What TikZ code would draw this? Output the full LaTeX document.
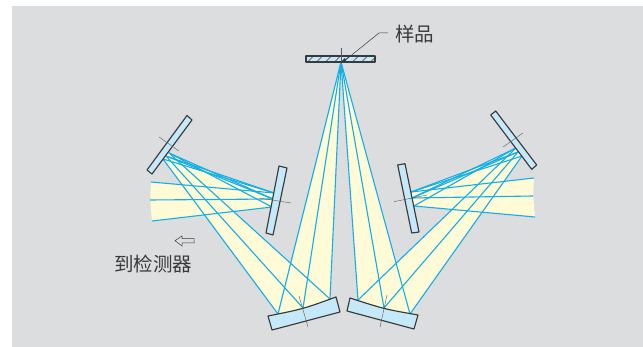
\documentclass[tikz,border=0pt]{standalone}
\usepackage{fontspec}
\newfontfamily\cjk{Noto Sans CJK SC}
\definecolor{bgc}{HTML}{DCDDDF}
\definecolor{beamc}{HTML}{FFFBD6}
\definecolor{rayc}{HTML}{12AEE8}
\definecolor{mirc}{HTML}{C6E9FA}
\definecolor{inkc}{HTML}{3A3A3C}
\tikzset{
  beam/.style={fill=beamc,draw=none},
  ray/.style={draw=rayc,line width=1.1pt},
  mirror/.style={fill=mirc,draw=inkc,line width=1.15pt,line join=round},
  axisline/.style={draw=inkc!85,line width=0.4pt},
  label/.style={text=inkc,font=\cjk\fontsize{19.5}{21}\selectfont,inner sep=0pt}
}
\begin{document}
\begin{tikzpicture}[x=1pt,y=-1pt]
\useasboundingbox (0,0) rectangle (643,347);
\fill[bgc] (12,6) rectangle (643,347);
% key points
\coordinate (F) at (341,62);
\coordinate (La) at (278,314);\coordinate (Lb) at (303,308);\coordinate (Lc) at (330,299);
\coordinate (Ra) at (358,300);\coordinate (Rb) at (384,308);\coordinate (Rc) at (410,314);
\coordinate (UL1) at (169,153);\coordinate (UL2) at (166,156);\coordinate (UL3) at (163,159);
\coordinate (SL1) at (274,193);\coordinate (SL2) at (273,199);\coordinate (SL3) at (272,207);
\coordinate (EL1) at (151,182);\coordinate (EL2) at (150,200);\coordinate (EL3) at (152,221);
\coordinate (UR1) at (516,148);\coordinate (UR2) at (518,152);\coordinate (UR3) at (522,156);
\coordinate (SR1) at (411,192);\coordinate (SR2) at (412,198);\coordinate (SR3) at (414,206);
\coordinate (ER1) at (534,178);\coordinate (ER2) at (533,196);\coordinate (ER3) at (535,217);
\coordinate (XL) at (intersection of UL1--SL2 and UL2--SL1);
\coordinate (XR) at (intersection of UR1--SR2 and UR2--SR1);
\coordinate (PL) at (intersection of UL1--Lc and EL1--SL1);
\coordinate (PR) at (intersection of UR3--Rc and ER1--SR1);
% beams
\path[beam] (F) -- (La) .. controls (Lb) .. (Lc) -- cycle;
\path[beam] (F) -- (Ra) .. controls (Rb) .. (Rc) -- cycle;
\path[beam] (UL3) -- (La) .. controls (Lb) .. (Lc) -- (UL1) -- cycle;
\path[beam] (UR1) -- (Ra) .. controls (Rb) .. (Rc) -- (UR3) -- cycle;
\path[beam] (UL1) -- (XL) -- (SL1) -- (SL3) -- (PL) -- cycle;
\path[beam] (UR3) -- (XR) -- (SR1) -- (SR3) -- (PR) -- cycle;
\path[beam] (UR1) -- (XR) -- (UR3) -- cycle;
\path[beam] (EL1) -- (SL1) -- (SL3) -- (EL3) .. controls (EL2) .. (EL1) -- cycle;
\path[beam] (ER1) -- (SR1) -- (SR3) -- (ER3) .. controls (ER2) .. (ER1) -- cycle;
% rays
\foreach \p in {La,Lb,Lc,Ra,Rb,Rc} \draw[ray] (F) -- (\p);
\draw[ray] (La) -- (UL3); \draw[ray] (Lb) -- (UL2); \draw[ray] (Lc) -- (UL1);
\draw[ray] (Ra) -- (UR1); \draw[ray] (Rb) -- (UR2); \draw[ray] (Rc) -- (UR3);
\draw[ray] (UL1) -- (SL3); \draw[ray] (UL2) -- (SL2); \draw[ray] (UL3) -- (SL1);
\draw[ray] (UL2) -- (SL1); \draw[ray] (UL1) -- (SL2);
\draw[ray] (UR3) -- (SR1); \draw[ray] (UR2) -- (SR2); \draw[ray] (UR1) -- (SR3);
\draw[ray] (UR2) -- (SR1); \draw[ray] (UR1) -- (SR2);
\draw[ray] (EL1) -- (SL1); \draw[ray] (EL2) -- (SL2); \draw[ray] (EL3) -- (SL3);
\draw[ray] (ER1) -- (SR1); \draw[ray] (ER2) -- (SR2); \draw[ray] (ER3) -- (SR3);
% mirrors
\draw[mirror] (187,115.5) -- (192,120) -- (152,174) -- (147,170) -- cycle;
\draw[mirror] (279,166) -- (287,168) -- (273,235) -- (266,233) -- cycle;
\draw[mirror] (495.7,111) -- (490.7,115) -- (531.7,169.3) -- (536.7,165) -- cycle;
\draw[mirror] (397.7,165) -- (405,163.7) -- (419,232) -- (411.7,233) -- cycle;
\draw[mirror] (268,316) .. controls (303,309) .. (336,297) -- (340,312) -- (272,330) -- cycle;
\draw[mirror] (350,298) .. controls (384,309) .. (418,315) -- (414,329) -- (347,311) -- cycle;
% sample
\draw[mirror] (306,56) rectangle (375,62);
\foreach \h in {312,321,...,375} \draw[inkc,line width=0.5pt] (\h-4,61.5) -- (\h+1,56.5);
% axes
\draw[axisline] (159,137) -- (179,151);
\draw[axisline] (259,198) -- (291,203);
\draw[axisline] (503,147) -- (523,133);
\draw[axisline] (394,201.7) -- (427,195);
\draw[axisline] (299,296) -- (308,327);
\draw[axisline] (387,295) -- (380,327);
\draw[axisline] (341,48) -- (341,62);
% sample label and leader
\coordinate (Lead) at (343,62);
\node[label,anchor=west] (samplelabel) at (395,34) {样品};
\draw[inkc,line width=0.5pt] (Lead) -- (379,33) -- (388,33);
\fill[inkc] (341,62) -- (345,58) -- (346,61) -- cycle;
% detector arrow and label
\draw[inkc,line width=0.5pt,line join=miter] (175,240.7) -- (182,236) -- (182,238.7) -- (194,238.7) -- (194,243) -- (182,243) -- (182,246) -- cycle;
\node[label,anchor=center] (detlabel) at (153,264) {到检测器};
\end{tikzpicture}
\end{document}
